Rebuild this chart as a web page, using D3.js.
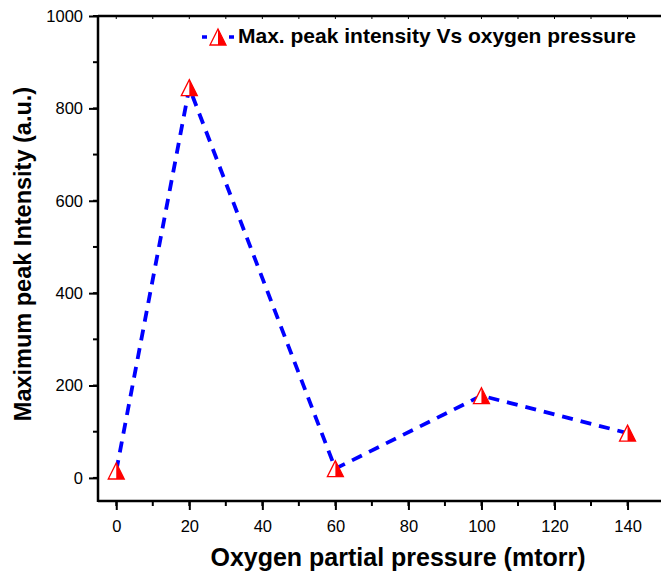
<!DOCTYPE html>
<html>
<head>
<meta charset="utf-8">
<script src="https://cdn.jsdelivr.net/npm/d3@7"></script>
<style>
body { margin: 0; background: #fff; }
svg text { font-family: "Liberation Sans", Arial, sans-serif; }
</style>
</head>
<body>
<svg id="chart"></svg>
<script>
// data
var pressure = [0, 20, 60, 100, 140];
var intensity = [15, 845, 20, 178, 97];
var xTicks = [0, 20, 40, 60, 80, 100, 120, 140];
var yTicks = [0, 200, 400, 600, 800, 1000];
var legendLabel = "Max. peak intensity Vs oxygen pressure";

var width = 661, height = 574;
var svg = d3.select("#chart").attr("width", width).attr("height", height);

var x = d3.scaleLinear().domain([-5, 150]).range([98, 98 + 155 * 3.652]);
var y = d3.scaleLinear().domain([-50, 1000]).range([501, 16]);

var minorX = d3.range(0, 151, 10);
var minorY = d3.range(0, 1001, 100);

// bottom axis
var bottom = svg.append("g").attr("transform", "translate(0," + y(-50) + ")");
bottom.call(d3.axisBottom(x).tickValues(xTicks).tickSize(9).tickPadding(10).tickFormat(d3.format("d")));
bottom.selectAll(".minor").data(minorX).enter().append("line").attr("class", "minor")
  .attr("x1", function(d) { return x(d); }).attr("x2", function(d) { return x(d); })
  .attr("y1", 0).attr("y2", 5).attr("stroke", "#000").attr("stroke-width", 2);

// left axis
var left = svg.append("g").attr("transform", "translate(" + x(-5) + ",0)");
left.call(d3.axisLeft(y).tickValues(yTicks).tickSize(9).tickPadding(6).tickFormat(d3.format("d")));
left.selectAll(".minor").data(minorY).enter().append("line").attr("class", "minor")
  .attr("y1", function(d) { return y(d); }).attr("y2", function(d) { return y(d); })
  .attr("x1", 0).attr("x2", -5).attr("stroke", "#000").attr("stroke-width", 2);

// top line with small inward ticks
var topAxis = svg.append("g").attr("transform", "translate(0," + y(1000) + ")");
topAxis.append("line").attr("x1", x(-5)).attr("x2", width).attr("y1", 0).attr("y2", 0)
  .attr("stroke", "#000").attr("stroke-width", 2.5);
topAxis.selectAll(".tk").data(minorX).enter().append("line").attr("class", "tk")
  .attr("x1", function(d) { return x(d); }).attr("x2", function(d) { return x(d); })
  .attr("y1", 0).attr("y2", 3).attr("stroke", "#000").attr("stroke-width", 1);

svg.selectAll(".domain").remove();
bottom.append("line").attr("x1", x(-5)).attr("x2", width).attr("y1", 0).attr("y2", 0)
  .attr("stroke", "#000").attr("stroke-width", 2.5);
left.append("line").attr("x1", 0).attr("x2", 0).attr("y1", y(-50) + 1).attr("y2", y(1000) - 1)
  .attr("stroke", "#000").attr("stroke-width", 2.5);
svg.selectAll(".tick line").attr("stroke-width", 2);
svg.selectAll(".tick text").attr("font-size", "16.5px").attr("fill", "#000")
  .style("font-family", "'Liberation Sans', Arial, sans-serif");

// series line
var pts = pressure.map(function(p, i) { return [p, intensity[i]]; });
svg.append("path")
  .datum(pts)
  .attr("fill", "none")
  .attr("stroke", "#0000ff")
  .attr("stroke-width", 3.8)
  .attr("stroke-dasharray", "11,8")
  .attr("d", d3.line().x(function(d) { return x(d[0]); }).y(function(d) { return y(d[1]); }));

// half-filled triangle markers
function marker(g, cx, cy) {
  var s = 8;
  var tri = "M" + cx + "," + (cy - s) + "L" + (cx + s) + "," + (cy + s) + "L" + (cx - s) + "," + (cy + s) + "Z";
  g.append("path").attr("d", tri).attr("fill", "#fff");
  g.append("path")
    .attr("d", "M" + cx + "," + (cy - s) + "L" + (cx + s) + "," + (cy + s) + "L" + cx + "," + (cy + s) + "Z")
    .attr("fill", "#ff0000");
  g.append("path").attr("d", tri)
    .attr("fill", "none").attr("stroke", "#ff0000").attr("stroke-width", 1.3);
}
var mg = svg.append("g");
pts.forEach(function(d) { marker(mg, x(d[0]), y(d[1])); });

// legend
var lg = svg.append("g");
lg.append("line").attr("x1", 202).attr("x2", 234).attr("y1", 37).attr("y2", 37)
  .attr("stroke", "#0000ff").attr("stroke-width", 3.5).attr("stroke-dasharray", "5,22");
marker(lg, 218, 37);
lg.append("text").attr("x", 238).attr("y", 43).attr("font-size", "21px")
  .attr("font-weight", "bold").text(legendLabel);

// axis titles
svg.append("text").attr("x", 398).attr("y", 566).attr("text-anchor", "middle")
  .attr("font-size", "25px").attr("font-weight", "bold").text("Oxygen partial pressure (mtorr)");
svg.append("text").attr("transform", "translate(31,254) rotate(-90)").attr("text-anchor", "middle")
  .attr("font-size", "23.5px").attr("font-weight", "bold").text("Maximum peak Intensity (a.u.)");
</script>
</body>
</html>
